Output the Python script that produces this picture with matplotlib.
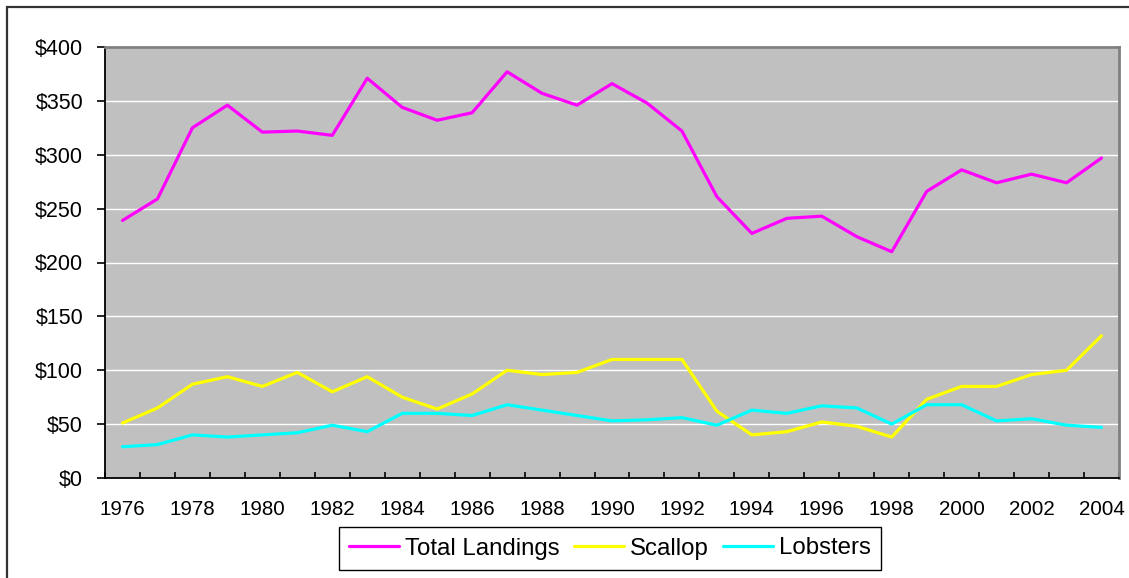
# %%
# Import the modules we will use
import numpy as np
import matplotlib.pyplot as plt
from matplotlib.patches import Rectangle

plt.rcParams['font.family'] = ['Liberation Sans', 'DejaVu Sans']

# %%
# Landings values
years = list(range(1976, 2005))
total_landings = [239, 259, 325, 346, 321, 322, 318, 371, 344, 332, 339, 377, 357, 346,
                  366, 348, 322, 261, 227, 241, 243, 224, 210, 266, 286, 274, 282, 274, 297]
scallop = [51, 65, 87, 94, 85, 98, 80, 94, 75, 64, 78, 100, 96, 98,
           110, 110, 110, 62, 40, 43, 52, 48, 38, 73, 85, 85, 96, 100, 132]
lobsters = [29, 31, 40, 38, 40, 42, 49, 43, 60, 60, 58, 68, 63, 58,
            53, 54, 56, 49, 63, 60, 67, 65, 50, 68, 68, 53, 55, 49, 47]

year_labels = [str(y) for y in years[::2]]
y_ticks = list(range(0, 401, 50))

# %%
# Plot it
fig = plt.figure(figsize=(11.29, 5.78), dpi=100)
ax = fig.add_axes([105/1129, 1 - 478/578, (1119 - 105)/1129, (478 - 47)/578])
ax.set_facecolor('#C0C0C0')

ax.plot(years, total_landings, color='#FF00FF', lw=2.3, label='Total Landings', solid_capstyle='round')
ax.plot(years, scallop, color='#FFFF00', lw=2.3, label='Scallop', solid_capstyle='round')
ax.plot(years, lobsters, color='#00FFFF', lw=2.3, label='Lobsters', solid_capstyle='round')

ax.set_xlim(years[0] - 0.5, years[-1] + 0.5)
ax.set_ylim(0, 400)

# gridlines
ax.set_yticks(y_ticks)
ax.set_yticklabels(['$' + str(v) for v in y_ticks], fontsize=15.5)
ax.yaxis.grid(True, color='white', lw=1)
ax.set_axisbelow(True)
ax.tick_params(axis='y', direction='out', length=5.8, width=1.2, pad=10)

# x ticks between categories, labels every 2 years
ax.set_xticks(np.arange(years[0] - 0.5, years[-1] + 1, 1))
ax.set_xticklabels([])
ax.tick_params(axis='x', which='major', direction='in', length=4.3, width=1.2)
ax.set_xticks(years[::2], minor=True)
ax.set_xticklabels(year_labels, minor=True, fontsize=14.8)
ax.tick_params(axis='x', which='minor', length=0, pad=16)

for side in ['top', 'right']:
    ax.spines[side].set_color('#808080')
    ax.spines[side].set_linewidth(2)
for side in ['left', 'bottom']:
    ax.spines[side].set_color('black')
    ax.spines[side].set_linewidth(1.3)

# legend at the bottom
leg = fig.legend(loc='center', bbox_to_anchor=(610/1129, 1 - 548.5/578), ncol=3,
                 fontsize=17.3, frameon=True, fancybox=False, framealpha=1,
                 edgecolor='black', handlelength=2.07, handletextpad=0.25,
                 columnspacing=0.6, borderpad=0.42)
leg.get_frame().set_linewidth(1)

# chart area border
fig.patches.append(Rectangle((7/1129, -0.1), 1.2, 1 - 7/578 + 0.1, transform=fig.transFigure,
                             fill=False, edgecolor='#333333', lw=1.6))

plt.savefig('out.png', dpi=100)
